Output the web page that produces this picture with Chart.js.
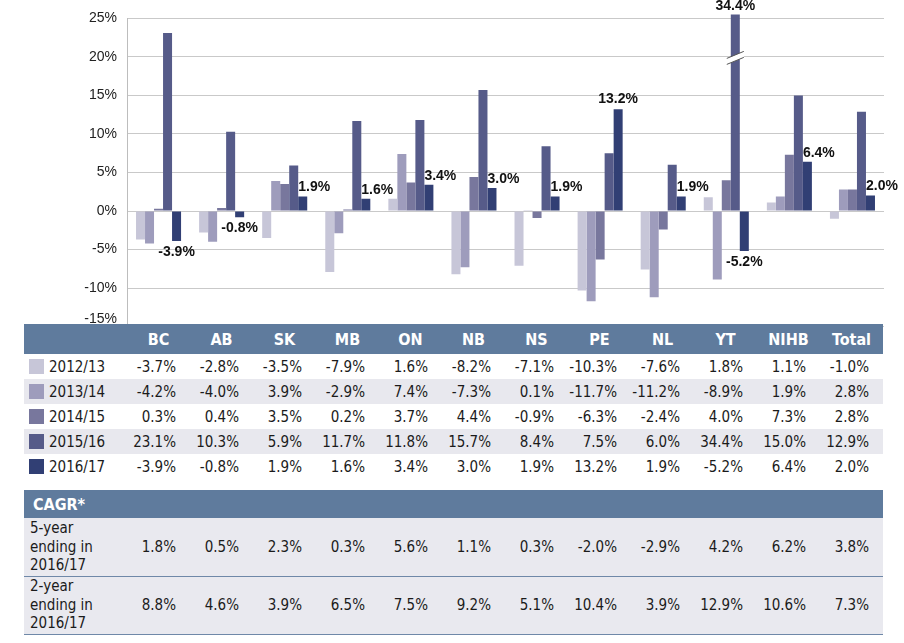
<!DOCTYPE html>
<html>
<head>
<meta charset="utf-8">
<script src="https://cdn.jsdelivr.net/npm/chart.js@4.4.1/dist/chart.umd.min.js"></script>
<style>
  body { margin: 0; background: #fff; }
  #wrap { position: relative; width: 904px; height: 643px; }
  #chartBox { position: absolute; left: 0; top: 0; width: 904px; height: 345px; }
  table { position: absolute; left: 24px; border-collapse: collapse; table-layout: fixed;
          font-family: "DejaVu Sans Condensed", "DejaVu Sans", sans-serif; font-size: 15px; color: #1b1b1b; }
  td, th { padding: 0; }
  th { background: #5f7b9d; color: #fff; font-family: "Liberation Sans Narrow", "DejaVu Sans Condensed", sans-serif;
       font-weight: bold; font-size: 16px; text-align: center; }
  td.v { text-align: right; padding-right: 14px; }
  #t1 { top: 324px; background: #fff; }
  #t1 thead tr { height: 30px; }
  #t1 tbody tr { height: 25px; }
  #t1 tbody tr:nth-child(even) { background: #e8e8ee; }
  .lbl { padding-left: 5px; white-space: nowrap; }
  .sw { display: inline-block; width: 15px; height: 15px; vertical-align: -2px; margin-right: 5px; }
  #t2 { top: 490px; }
  #t2 thead tr { height: 28px; }
  #t2 thead th { text-align: left; padding-left: 9px; }
  #t2 tbody tr { height: 58px; background: #e9e9ef; border-bottom: 1px solid #6f88a8; }
  #t2 .lbl { padding-left: 6px; line-height: 18.5px; font-size: 15px; }
</style>
</head>
<body>
<div id="wrap">
  <div id="chartBox"><canvas id="grafico"></canvas></div>
  <table id="t1"><colgroup id="cols1"></colgroup><thead><tr id="head1"></tr></thead><tbody id="body1"></tbody></table>
  <table id="t2"><colgroup id="cols2"></colgroup><thead><tr><th colspan="13">CAGR*</th></tr></thead><tbody id="body2"></tbody></table>
</div>
<script>
"use strict";

// Datos
const categorias = ["BC", "AB", "SK", "MB", "ON", "NB", "NS", "PE", "NL", "YT", "NIHB", "Total"];
const anios = ["2012/13", "2013/14", "2014/15", "2015/16", "2016/17"];
const v1213 = [-3.7, -2.8, -3.5, -7.9, 1.6, -8.2, -7.1, -10.3, -7.6, 1.8, 1.1, -1.0];
const v1314 = [-4.2, -4.0, 3.9, -2.9, 7.4, -7.3, 0.1, -11.7, -11.2, -8.9, 1.9, 2.8];
const v1415 = [0.3, 0.4, 3.5, 0.2, 3.7, 4.4, -0.9, -6.3, -2.4, 4.0, 7.3, 2.8];
const v1516 = [23.1, 10.3, 5.9, 11.7, 11.8, 15.7, 8.4, 7.5, 6.0, 34.4, 15.0, 12.9];
const v1617 = [-3.9, -0.8, 1.9, 1.6, 3.4, 3.0, 1.9, 13.2, 1.9, -5.2, 6.4, 2.0];
const cagr5 = [1.8, 0.5, 2.3, 0.3, 5.6, 1.1, 0.3, -2.0, -2.9, 4.2, 6.2, 3.8];
const cagr2 = [8.8, 4.6, 3.9, 6.5, 7.5, 9.2, 5.1, 10.4, 3.9, 12.9, 10.6, 7.3];
const yTicks = [25, 20, 15, 10, 5, 0, -5, -10, -15];

const series = [v1213, v1314, v1415, v1516, v1617];
const colores = ["#c7c6d8", "#9e9cbc", "#78779d", "#565b89", "#313f74"];
const yMin = -15, yMax = 25;

const pct = v => v.toFixed(1) + "%";

// Tablas
function armarCols(id) {
    const cg = document.getElementById(id);
    let html = '<col style="width:103px">';
    categorias.forEach(() => { html += '<col style="width:63px">'; });
    cg.innerHTML = html;
}
armarCols("cols1");
armarCols("cols2");

document.getElementById("head1").innerHTML = "<th></th>" + categorias.map(c => `<th>${c}</th>`).join("");
document.getElementById("body1").innerHTML = anios.map((a, s) =>
    `<tr><td class="lbl"><span class="sw" style="background:${colores[s]}"></span>${a}</td>` +
    series[s].map(v => `<td class="v">${pct(v)}</td>`).join("") + "</tr>").join("");
document.getElementById("body2").innerHTML =
    `<tr><td class="lbl">5-year<br>ending in<br>2016/17</td>${cagr5.map(v => `<td class="v">${pct(v)}</td>`).join("")}</tr>` +
    `<tr><td class="lbl">2-year<br>ending in<br>2016/17</td>${cagr2.map(v => `<td class="v">${pct(v)}</td>`).join("")}</tr>`;

// Etiquetas de datos y corte de barra
const etiquetas = {
    id: "etiquetas",
    afterDatasetsDraw(chart) {
        const ctx = chart.ctx;
        const area = chart.chartArea;
        ctx.save();
        ctx.fillStyle = "#111";
        ctx.font = "bold 14px 'Liberation Sans', Arial, sans-serif";

        // barra recortada (2015/16)
        chart.getDatasetMeta(3).data.forEach((bar, i) => {
            if (v1516[i] <= yMax) return;
            const w = bar.width;
            const x0 = bar.x - w / 2 - 4, x1 = bar.x + w / 2 + 4;
            const yc = area.top + 38;
            ctx.save();
            ctx.fillStyle = "#fff";
            ctx.beginPath();
            ctx.moveTo(x0, yc + 2); ctx.lineTo(x1, yc - 5);
            ctx.lineTo(x1, yc + 1); ctx.lineTo(x0, yc + 8);
            ctx.closePath(); ctx.fill();
            ctx.strokeStyle = "#555"; ctx.lineWidth = 1;
            ctx.beginPath();
            ctx.moveTo(x0, yc + 2); ctx.lineTo(x1, yc - 5);
            ctx.moveTo(x0, yc + 8); ctx.lineTo(x1, yc + 1);
            ctx.stroke();
            ctx.restore();
            ctx.textAlign = "center"; ctx.textBaseline = "bottom";
            ctx.fillText(pct(v1516[i]), bar.x, area.top - 5);
        });

        // 2016/17
        chart.getDatasetMeta(4).data.forEach((bar, i) => {
            const v = v1617[i];
            if (v < 0) {
                ctx.textAlign = "center"; ctx.textBaseline = "top";
                ctx.fillText(pct(v), bar.x, bar.y + 4);
            } else if (v < v1516[i]) {
                ctx.textAlign = "left"; ctx.textBaseline = "bottom";
                ctx.fillText(pct(v), bar.x - bar.width / 2, bar.y - 2);
            } else {
                ctx.textAlign = "center"; ctx.textBaseline = "bottom";
                ctx.fillText(pct(v), bar.x, bar.y - 3);
            }
        });

        // etiqueta -15% (queda tapada por la tabla)
        const ys = chart.scales.y;
        ctx.font = "14px 'Liberation Sans', Arial, sans-serif";
        ctx.fillStyle = "#222";
        ctx.textAlign = "right"; ctx.textBaseline = "middle";
        ctx.fillText(yMin + "%", ys.right - 10, ys.getPixelForValue(yMin) - 7);
        ctx.restore();
    }
};

new Chart(document.getElementById("grafico").getContext("2d"), {
    type: "bar",
    data: {
        labels: categorias,
        datasets: anios.map((a, s) => ({
            label: a,
            data: series[s],
            backgroundColor: colores[s],
            borderWidth: 0,
            categoryPercentage: 0.714,
            barPercentage: 1,
            clip: { left: 0, top: 4, right: 0, bottom: 0 }
        }))
    },
    options: {
        responsive: true,
        maintainAspectRatio: false,
        animation: false,
        layout: { padding: { top: 18, bottom: 7, left: 0, right: 20 } },
        plugins: { legend: { display: false }, tooltip: { enabled: false } },
        scales: {
            x: { display: false, offset: true },
            y: {
                min: yMin,
                max: yMax,
                afterFit: scale => { scale.width = 127; },
                afterBuildTicks: scale => { scale.ticks = yTicks.map(v => ({ value: v })); },
                border: { display: true, color: "#bdbdbd" },
                grid: { color: "#c9c9c9", drawTicks: false },
                ticks: {
                    padding: 10,
                    color: "#222",
                    font: { family: "'Liberation Sans', Arial, sans-serif", size: 14 },
                    callback: v => (v === yMin ? "" : v + "%")
                }
            }
        }
    },
    plugins: [etiquetas]
});
</script>
</body>
</html>
